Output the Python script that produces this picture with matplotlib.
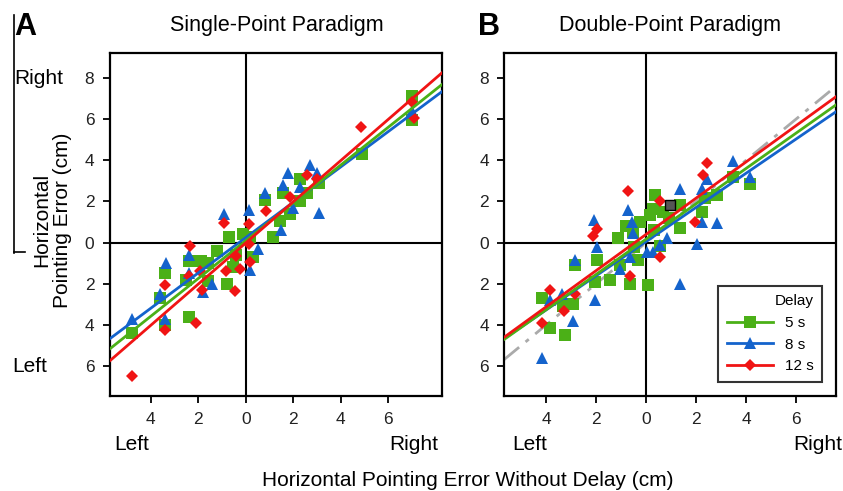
import matplotlib
matplotlib.use("Agg")
import matplotlib.pyplot as plt
from matplotlib.lines import Line2D
from matplotlib.ticker import FuncFormatter
import numpy as np

plt.rcParams['font.family'] = ['Liberation Sans', 'DejaVu Sans']

# ---- data (cm) ----
# Panel A: Single-Point Paradigm
a5_x = [-4.8, -3.6, -3.4, -3.4, -2.4, -2.4, -1.9, -1.6, -2.5, -1.2, -0.8, -0.7, -0.55, -0.4,
        0.17, 0.3, 1.14, -1.6, -0.1, 0.8, 1.43, 1.56, 1.85, 2.27, 2.57, 3.1, 2.27, 4.9, 7.0, 7.0]
a5_y = [-4.4, -2.7, -1.5, -4.0, -3.6, -0.9, -0.9, -1.0, -1.8, -0.4, -2.0, 0.25, -1.2, -0.6,
        0.25, -0.7, 0.25, -1.85, 0.4, 2.05, 1.07, 2.39, 1.4, 3.1, 2.4, 2.9, 2.0, 4.3, 7.1, 5.95]
a8_x = [-4.8, -3.6, -3.37, -3.4, -2.4, -2.4, -1.8, -1.4, 0.17, 0.5, -0.9, 0.13, 0.8, 1.5,
        1.8, 2.7, 3.0, 3.1, 1.56, 2.27, 2.0, 7.0]
a8_y = [-3.7, -2.5, -1.0, -3.7, -0.6, -1.5, -2.4, -2.0, -1.35, -0.3, 1.4, 1.6, 2.4, 0.6,
        3.4, 3.75, 3.4, 1.45, 2.8, 2.7, 1.7, 6.4]
a12_x = [-4.8, -3.4, -3.4, -2.36, -2.4, -2.1, -1.85, -1.94, -0.85, -0.46, -0.43, -0.25, 0.2,
         0.13, -0.93, 0.13, 0.87, 1.85, 2.57, 2.98, 4.87, 7.0, 7.1]
a12_y = [-6.5, -2.05, -4.25, -0.15, -1.6, -3.9, -2.3, -1.37, -1.37, -2.35, -0.63, -1.3, -0.93,
         -0.06, 0.93, 0.88, 1.55, 2.2, 3.27, 3.1, 5.6, 6.8, 6.05]

# Panel B: Double-Point Paradigm
b5_x = [0.36, 4.16, 3.48, 2.84, 2.36, 2.24, 1.36, 1.36, 0.68, 0.16, -0.24, -0.52, -1.12, 0.28,
        -1.04, -1.96, -2.04, -1.44, -2.84, -4.16, -3.84, -3.24, -3.32, -2.92, -0.64, 0.08,
        -0.32, 0.56, -0.8, 0.9, -0.5, 0.3]
b5_y = [2.33, 2.82, 3.2, 2.33, 2.14, 1.5, 0.7, 1.84, 1.5, 1.36, 1.0, 0.53, 0.2, 1.65,
        -1.07, -0.84, -1.9, -1.8, -1.07, -2.7, -4.17, -4.47, -3.1, -2.96, -2.0, -2.04,
        -0.84, -0.15, 0.8, 1.2, -0.2, 0.6]
b8_x = [3.48, 4.16, 2.44, 1.36, 2.24, -0.72, -2.1, -0.56, 2.84, 2.24, 2.04, -1.96, 1.36,
        -2.04, -2.92, -4.16, -2.84, -3.84, -3.36, 0.04, -0.64, -1.04, 0.56, 0.84, -0.52, 0.28]
b8_y = [3.98, 3.16, 3.1, 2.6, 2.6, 1.6, 1.1, 1.0, 0.93, 1.0, -0.05, -0.2, -2.0,
        -2.77, -3.83, -5.6, -0.84, -2.77, -2.5, -0.44, -0.68, -1.26, -0.1, 0.2, 0.44, -0.44]
b12_x = [-0.72, 2.44, 2.28, -1.96, -2.12, 0.56, 1.96, -3.84, -4.16, -2.84, 0.56, -3.3, -0.64]
b12_y = [2.52, 3.84, 3.3, 0.68, 0.3, 2.0, 1.0, -2.3, -3.9, -2.5, -0.68, -3.3, -1.6]
b_mean_x = [0.96]
b_mean_y = [1.84]

# fitted regression lines (slope, intercept)
a_fits = {"5 s": (0.918, 0.09), "8 s": (0.858, 0.24), "12 s": (1.0, -0.02)}
b_fits = {"5 s": (0.858, 0.17), "8 s": (0.83, 0.05), "12 s": (0.88, 0.40)}

x_ticks = [-4, -2, 0, 2, 4, 6]
y_ticks = [-6, -4, -2, 0, 2, 4, 6, 8]

green = '#4BB017'
blue = '#1463CC'
red = '#F01414'
styles = {"5 s": (green, 's', 8), "8 s": (blue, '^', 8.5), "12 s": (red, 'D', 6.5)}

fig = plt.figure(figsize=(8.43, 4.91), dpi=100)
axA = fig.add_axes([0.130, 0.193, 0.394, 0.699])
axB = fig.add_axes([0.598, 0.193, 0.394, 0.699])

abs_fmt = FuncFormatter(lambda v, p: f"{abs(v):g}")


def setup(ax, xlim, ylim):
    ax.set_xlim(*xlim)
    ax.set_ylim(*ylim)
    ax.axhline(0, color='black', lw=1.5, zorder=1)
    ax.axvline(0, color='black', lw=1.5, zorder=1)
    ax.set_xticks(x_ticks)
    ax.set_yticks(y_ticks)
    ax.xaxis.set_major_formatter(abs_fmt)
    ax.yaxis.set_major_formatter(abs_fmt)
    ax.tick_params(direction='out', length=5, width=1.3, labelsize=12.5,
                   colors='black', labelcolor='#222222', pad=6)
    for s in ax.spines.values():
        s.set_linewidth(1.6)


def draw(ax, data, fits):
    for lab, (xs, ys) in data.items():
        c, m, ms = styles[lab]
        ax.plot(xs, ys, linestyle='none', marker=m, color=c, markersize=ms,
                markeredgewidth=0, zorder=3)
    xl = np.array(ax.get_xlim())
    for lab in ["8 s", "5 s", "12 s"]:
        k, b = fits[lab]
        ax.plot(xl, k * xl + b, color=styles[lab][0], lw=2, zorder=4)


setup(axA, (-5.73, 8.25), (-7.46, 9.2))
setup(axB, (-5.68, 7.6), (-7.46, 9.2))

draw(axA, {"5 s": (a5_x, a5_y), "8 s": (a8_x, a8_y), "12 s": (a12_x, a12_y)}, a_fits)

xl = np.array(axB.get_xlim())
axB.plot(xl, xl, color='#AAAAAA', lw=2, linestyle=(0, (7, 3, 1.5, 3)), zorder=2)
draw(axB, {"5 s": (b5_x, b5_y), "8 s": (b8_x, b8_y), "12 s": (b12_x, b12_y)}, b_fits)
axB.plot(b_mean_x, b_mean_y, linestyle='none', marker='s', markersize=7,
         color='#555555', markeredgecolor='black', markeredgewidth=1, zorder=5)

handles = [Line2D([], [], color=styles[l][0], marker=styles[l][1], markersize=styles[l][2],
                  lw=2, markeredgewidth=0, label=l) for l in ["5 s", "8 s", "12 s"]]
leg = axB.legend(handles=handles, title='Delay', loc='lower right',
                 bbox_to_anchor=(0.98, 0.02), fontsize=11, title_fontsize=11,
                 frameon=True, fancybox=False, edgecolor='black', handlelength=3,
                 borderpad=0.55, labelspacing=0.5, alignment='right')
leg.get_frame().set_linewidth(1.5)

# titles and panel letters
fig.text(277 / 843, 1 - 26 / 491, 'Single-Point Paradigm', ha='center', va='center', fontsize=15.5)
fig.text(670 / 843, 1 - 26 / 491, 'Double-Point Paradigm', ha='center', va='center', fontsize=15.5)
fig.text(14 / 843, 1 - 27 / 491, 'A', ha='left', va='center', fontsize=22, fontweight='bold')
fig.text(478 / 843, 1 - 27 / 491, 'B', ha='left', va='center', fontsize=22, fontweight='bold')

# axis labels
fig.text(52 / 843, 1 - 220 / 491, 'Horizontal\nPointing Error (cm)', rotation=90,
         ha='center', va='center', fontsize=15, multialignment='center', linespacing=1.1)
fig.text(14 / 843, 1 - 78 / 491, 'Right', ha='left', va='center', fontsize=15)
fig.text(12 / 843, 1 - 367 / 491, 'Left', ha='left', va='center', fontsize=15)
fig.text(114 / 843, 1 - 445 / 491, 'Left', ha='left', va='center', fontsize=15)
fig.text(438 / 843, 1 - 445 / 491, 'Right', ha='right', va='center', fontsize=15)
fig.text(512 / 843, 1 - 445 / 491, 'Left', ha='left', va='center', fontsize=15)
fig.text(842 / 843, 1 - 445 / 491, 'Right', ha='right', va='center', fontsize=15)
fig.text(468 / 843, 1 - 480 / 491, 'Horizontal Pointing Error Without Delay (cm)',
         ha='center', va='center', fontsize=15)

# bracket line at the left edge
fig.add_artist(Line2D([14 / 843, 14 / 843], [1 - 15 / 491, 1 - 253 / 491],
                      color='black', lw=1.2, transform=fig.transFigure))
fig.add_artist(Line2D([14 / 843, 25 / 843], [1 - 252 / 491, 1 - 252 / 491],
                      color='black', lw=1.2, transform=fig.transFigure))

fig.savefig('out.png', dpi=100)
